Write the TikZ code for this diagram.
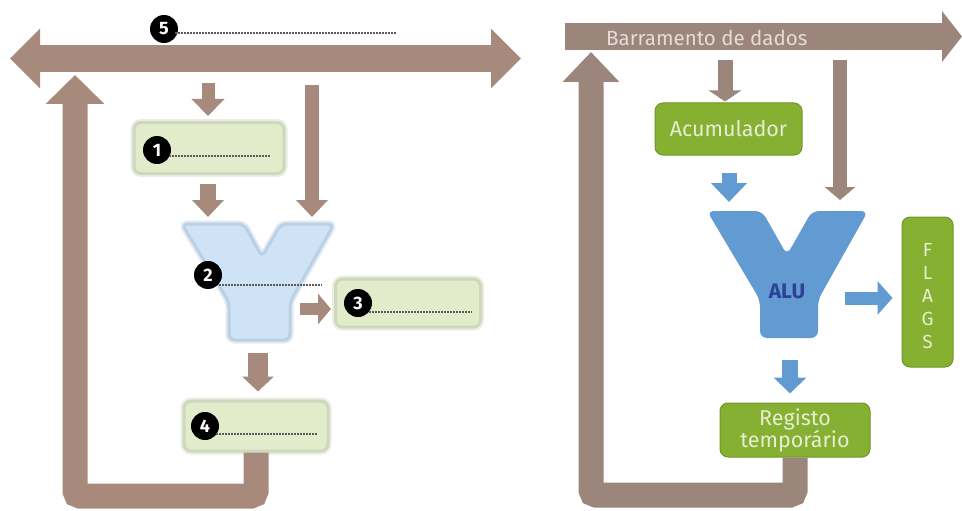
\documentclass[tikz,border=0pt]{standalone}
\usepackage{fontspec}
\setsansfont{Fira Sans}
\usetikzlibrary{arrows.meta,calc}
\definecolor{lbrown}{RGB}{168,138,124}
\definecolor{rbrown}{RGB}{156,134,124}
\definecolor{lgfill}{RGB}{226,236,202}
\definecolor{lgedge}{RGB}{206,216,190}
\definecolor{lyfill}{RGB}{206,227,246}
\definecolor{lyedge}{RGB}{188,208,228}
\definecolor{rgreen}{RGB}{134,176,50}
\definecolor{rgedge}{RGB}{112,150,40}
\definecolor{rgtext}{RGB}{230,238,210}
\definecolor{rblue}{RGB}{98,154,210}
\definecolor{alutext}{RGB}{45,65,150}
\definecolor{bustext}{RGB}{228,220,215}
\definecolor{dotc}{RGB}{90,90,90}
\begin{document}
\begin{tikzpicture}[x=1pt,y=-1pt,
  fat/.style n args={4}{draw=#1, line width=#2, -{Triangle[width=#3,length=#4]}},
  lbox/.style={draw=lgedge, line width=3pt, fill=lgfill, rounded corners=7pt,
    preaction={draw=lgedge!45, line width=7pt}},
  rbox/.style={draw=rgedge, line width=1pt, fill=rgreen, rounded corners=8pt,
    text=rgtext, font=\sffamily\fontsize{21.5}{22}\selectfont, align=center},
  numc/.style={circle, fill=black, inner sep=0pt, minimum size=28pt, text=white,
    font=\sffamily\bfseries\fontsize{18}{18}\selectfont},
  dotl/.style={draw=dotc, line width=1.2pt, dash pattern=on 1.8pt off 1.2pt},
  lyshape/.style={fill=lyfill, draw=lyedge, line width=3pt, rounded corners=6pt,
    preaction={draw=lyedge!45, line width=7pt}},
  ryshape/.style={fill=rblue, rounded corners=7pt}
]
\useasboundingbox (0,0) rectangle (962,511);

% ================= LEFT DIAGRAM =================
\coordinate (lbusL) at (10,58.5);
\coordinate (lbusR) at (521,58.5);
\draw[draw=lbrown, line width=27pt,
  {Triangle[width=58pt,length=30pt]}-{Triangle[width=58pt,length=30pt]}] (lbusL) -- (lbusR);

% Y shape (left)
\path[lyshape] (182,224) -- (244,224) -- (262,257) -- (281,224) -- (334,224)
  -- (290,302) -- (290,340) -- (229,340) -- (229,302) -- cycle;
\coordinate (lyTL) at (208,224);
\coordinate (lyTR) at (312,224);
\coordinate (lyB) at (258,340);

% boxes
\node[lbox, minimum width=150pt, minimum height=51pt] (box1) at (209,148) {};
\node[lbox, minimum width=145pt, minimum height=48pt] (box3) at (408,303) {};
\node[lbox, minimum width=144pt, minimum height=50pt] (box4) at (256,426) {};

% arrows (left)
\coordinate (a1s) at (208,83);
\draw[fat={lbrown}{13pt}{32pt}{17pt}] (a1s) -- ([yshift=5pt]box1.north -| a1s);
\coordinate (a2s) at (312,85);
\draw[fat={lbrown}{14pt}{31pt}{17pt}] (a2s) -- ([yshift=7pt]lyTR);
\draw[fat={lbrown}{16pt}{31pt}{17pt}] ([yshift=-9pt]box1.south -| lyTL) -- ([yshift=7pt]lyTL);
\coordinate (a4s) at (300,309);
\draw[fat={lbrown}{12pt}{30pt}{13pt}] (a4s) -- ([xshift=-3pt]a4s -| box3.west);
\coordinate (a5s) at (258,353);
\draw[fat={lbrown}{20pt}{31pt}{15pt}] (a5s) -- ([yshift=8pt]a5s |- box4.north);

% return path (left)
\coordinate (lubot) at (75,496);
\coordinate (lutip) at (75,75);
\draw[fat={lbrown}{25pt}{57pt}{29pt}, rounded corners=5pt]
  (box4.south) |- (lubot) -- (lutip);

% numbered markers and dotted lines
\node[numc] (n1) at (157,150) {1};
\coordinate (d1) at (270,156);
\draw[dotl] ([xshift=-2pt]n1.east |- d1) -- (d1);
\node[numc] (n2) at (208,275) {2};
\coordinate (d2) at (322,285);
\draw[dotl] ([xshift=-3pt]n2.east |- d2) -- (d2);
\node[numc] (n3) at (358,303) {3};
\coordinate (d3) at (472,312);
\draw[dotl] ([xshift=-3pt]n3.east |- d3) -- (d3);
\node[numc] (n4) at (205,426) {4};
\coordinate (d4) at (318,434);
\draw[dotl] ([xshift=-3pt]n4.east |- d4) -- (d4);
\node[numc] (n5) at (164,29) {5};
\coordinate (d5) at (396,33);
\draw[dotl] ([xshift=-3pt]n5.east |- d5) -- (d5);

% ================= RIGHT DIAGRAM =================
\coordinate (rbusL) at (565,36.5);
\coordinate (rbusR) at (962,36.5);
\draw[fat={rbrown}{27pt}{50pt}{20pt}] (rbusL) -- (rbusR);
\node[anchor=west, inner sep=0pt, text=bustext, font=\sffamily\fontsize{20.5}{20.5}\selectfont]
  (bustxt) at (606,38) {Barramento de dados};

% ALU Y shape
\path[ryshape] (707,211) -- (762,211) -- (787,255) -- (812,211) -- (868,211)
  -- (818,300) -- (818,338) -- (760,338) -- (760,300) -- cycle;
\coordinate (ryTL) at (729,211);
\coordinate (ryTR) at (840,211);
\node[text=alutext, font=\sffamily\bfseries\fontsize{21}{21}\selectfont] (alu) at (787,291) {ALU};

% boxes
\node[rbox, minimum width=147pt, minimum height=52pt] (acc) at (728.5,129) {Acumulador};
\node[rbox, minimum width=150pt, minimum height=54pt] (reg) at (795,430) {Registo\\temporário};
\node[rbox, minimum width=51pt, minimum height=150pt] (flags) at (927.5,292) {};
\node[text=rgtext, font=\sffamily\fontsize{19}{23}\selectfont, align=center]
  (flagtxt) at (927.5,296) {F\\L\\A\\G\\S};

% arrows (right)
\coordinate (b1s) at (725,60);
\draw[fat={rbrown}{15pt}{32pt}{11pt}] (b1s) -- ([yshift=1pt]b1s |- acc.north);
\coordinate (b2s) at (840,60);
\draw[fat={rbrown}{14pt}{30pt}{13pt}] (b2s) -- ([yshift=11pt]ryTR);
\draw[fat={rblue}{15pt}{35pt}{19pt}] ([yshift=-17pt]acc.south -| ryTL) -- ([yshift=9pt]ryTL);
\coordinate (b4s) at (845,298);
\draw[fat={rblue}{13pt}{33pt}{15pt}] (b4s) -- ([xshift=-9pt]b4s -| flags.west);
\coordinate (b5s) at (790,360);
\draw[fat={rblue}{16pt}{32pt}{16pt}] (b5s) -- ([yshift=9pt]b5s |- reg.north);

% return path (right)
\coordinate (rubot) at (591,495);
\coordinate (rutip) at (591,52);
\draw[fat={rbrown}{25pt}{55pt}{30pt}, rounded corners=5pt]
  (reg.south) |- (rubot) -- (rutip);
\end{tikzpicture}
\end{document}
